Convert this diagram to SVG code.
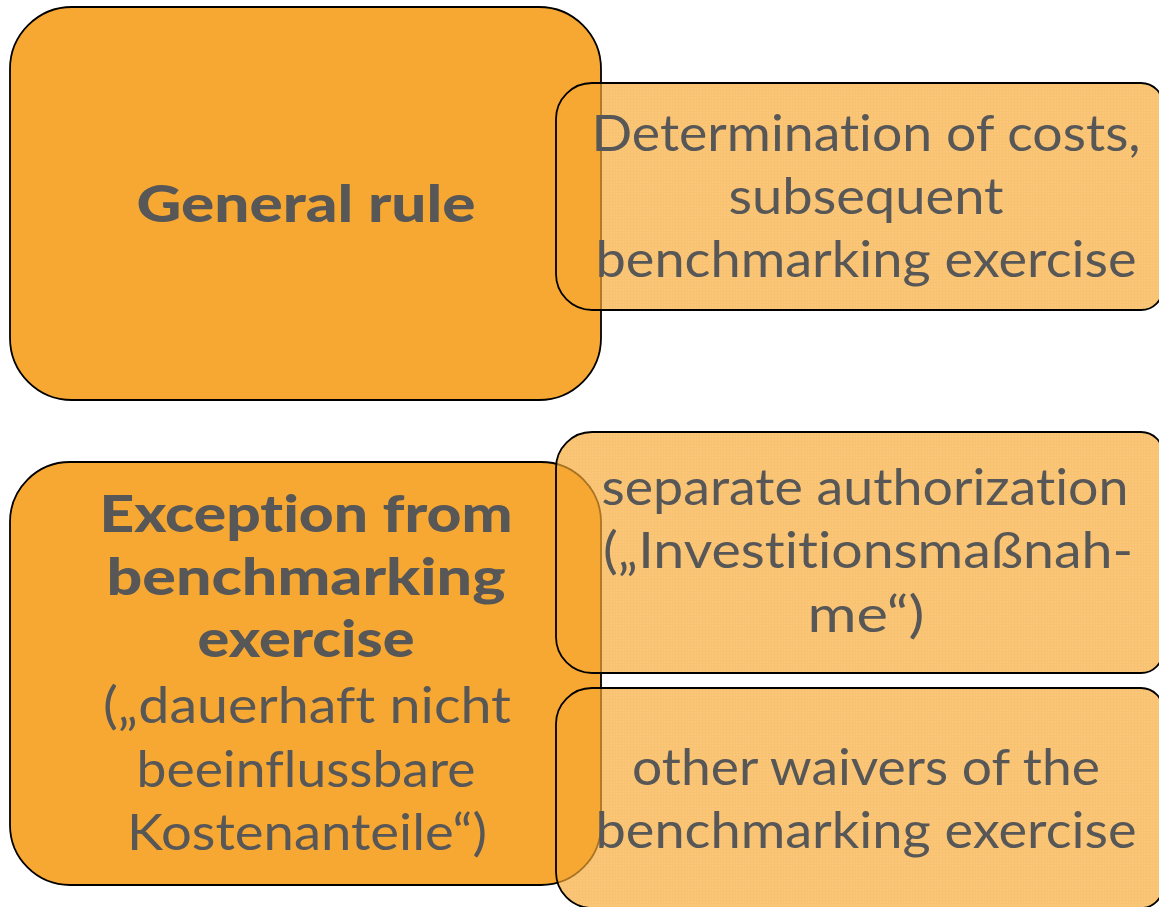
<svg xmlns="http://www.w3.org/2000/svg" width="1159" height="907" viewBox="0 0 1159 907">
  <style>
    .main { fill: #F7A833; stroke: #000; stroke-width: 1.8; }
    .sub { fill: url(#grid); stroke: #000; stroke-width: 1.8; }
    .t { font-family: Lato, "Open Sans", "Liberation Sans", sans-serif; fill: #575757; text-anchor: middle; font-variant-ligatures: none; font-feature-settings: "liga" 0, "clig" 0; }
    .b { font-weight: 900; font-size: 52px; }
    .r { font-size: 50px; }
  </style>
  <defs>
    <pattern id="grid" width="3" height="3" patternUnits="userSpaceOnUse">
      <rect x="0" y="0" width="3" height="3" fill="#F7A833" fill-opacity="0.66"/>
      <rect x="0" y="0" width="3" height="1" fill="#F7A833" fill-opacity="0.12"/>
      <rect x="0" y="1" width="1" height="2" fill="#F7A833" fill-opacity="0.12"/>
    </pattern>
  </defs>

  <g id="general-rule">
    <rect class="main" x="10" y="7" width="591" height="393" rx="62" ry="62"/>
    <text class="t b" x="306" y="222" textLength="339" lengthAdjust="spacingAndGlyphs">General rule</text>
  </g>

  <g id="exception">
    <rect class="main" x="10" y="462" width="591" height="423" rx="60" ry="60"/>
    <text class="t b" x="306" y="532" textLength="413" lengthAdjust="spacingAndGlyphs">Exception from</text>
    <text class="t b" x="306" y="595" textLength="399" lengthAdjust="spacingAndGlyphs">benchmarking</text>
    <text class="t b" x="306" y="657" textLength="217" lengthAdjust="spacingAndGlyphs">exercise</text>
    <text class="t r" x="307" y="723" textLength="408" lengthAdjust="spacingAndGlyphs">(„dauerhaft nicht</text>
    <text class="t r" x="306" y="787" textLength="339" lengthAdjust="spacingAndGlyphs">beeinflussbare</text>
    <text class="t r" x="307" y="850" textLength="360" lengthAdjust="spacingAndGlyphs">Kostenanteile“)</text>
  </g>

  <g id="determination">
    <path class="sub" d="M592,83 H1141 A22,22 0 0 1 1163,105 V288 A22,22 0 0 1 1141,310 H592 A36,36 0 0 1 556,274 V119 A36,36 0 0 1 592,83 Z"/>
    <text class="t r" x="866" y="151" textLength="549" lengthAdjust="spacingAndGlyphs">Determination of costs,</text>
    <text class="t r" x="866" y="214" textLength="275" lengthAdjust="spacingAndGlyphs">subsequent</text>
    <text class="t r" x="866" y="277" textLength="541" lengthAdjust="spacingAndGlyphs">benchmarking exercise</text>
  </g>

  <g id="separate-authorization">
    <path class="sub" d="M592,432 H1141 A22,22 0 0 1 1163,454 V651 A22,22 0 0 1 1141,673 H592 A36,36 0 0 1 556,637 V468 A36,36 0 0 1 592,432 Z"/>
    <text class="t r" x="865" y="505" textLength="527" lengthAdjust="spacingAndGlyphs">separate authorization</text>
    <text class="t r" x="868" y="568" textLength="530" lengthAdjust="spacingAndGlyphs">(„Investitionsmaßnah-</text>
    <text class="t r" x="866" y="632" textLength="117" lengthAdjust="spacingAndGlyphs">me“)</text>
  </g>

  <g id="other-waivers">
    <path class="sub" d="M592,688 H1141 A22,22 0 0 1 1163,710 V886 A22,22 0 0 1 1141,908 H592 A36,36 0 0 1 556,872 V724 A36,36 0 0 1 592,688 Z"/>
    <text class="t r" x="866" y="785" textLength="468" lengthAdjust="spacingAndGlyphs">other waivers of the</text>
    <text class="t r" x="866" y="848" textLength="541" lengthAdjust="spacingAndGlyphs">benchmarking exercise</text>
  </g>
</svg>
